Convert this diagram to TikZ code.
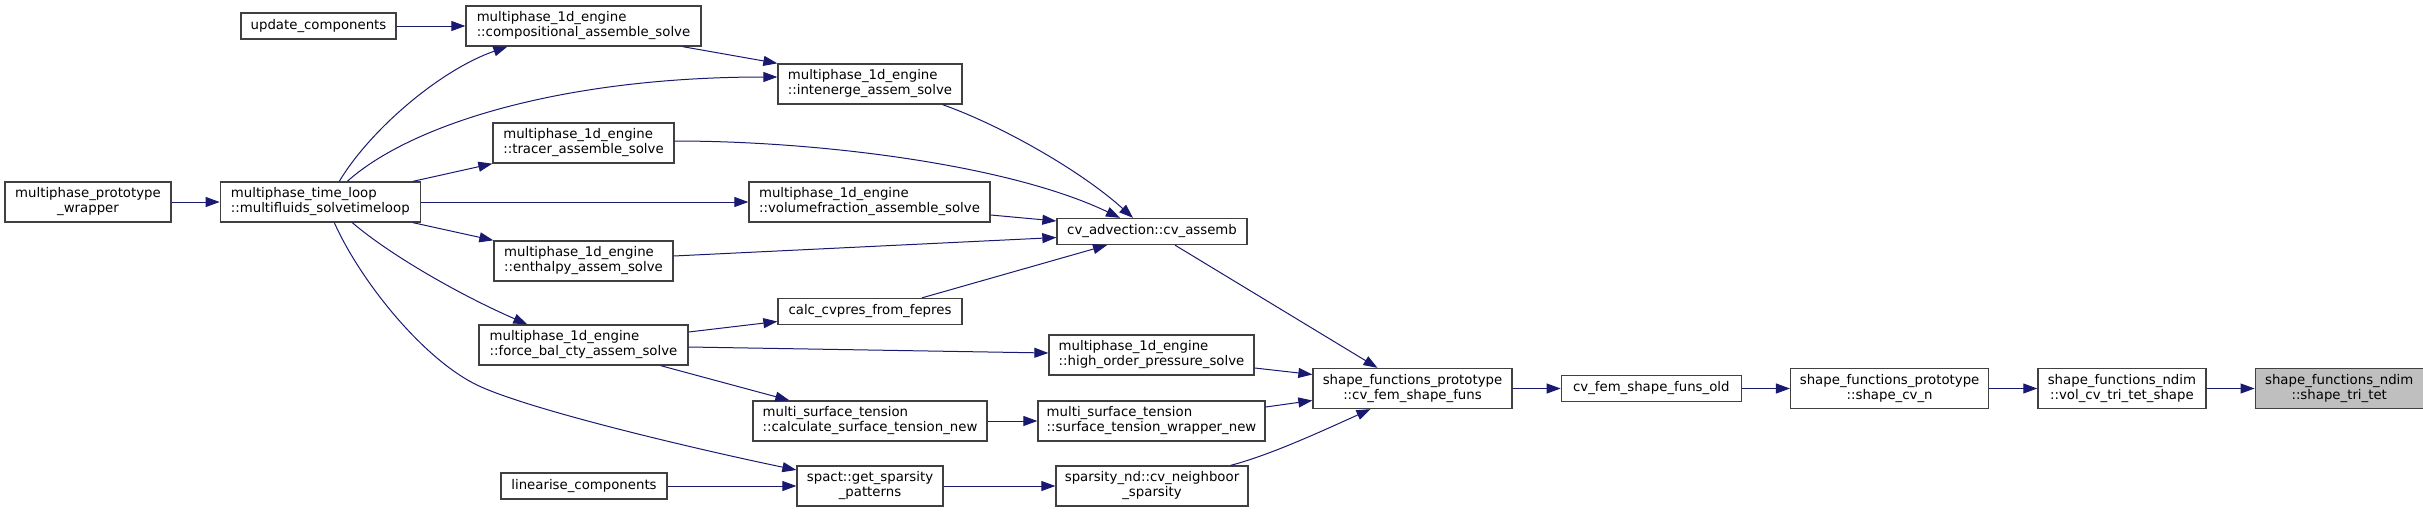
\documentclass[tikz,border=0pt]{standalone}
\usepackage{fontspec}
\setmainfont{DejaVu Sans}
\usetikzlibrary{positioning,arrows.meta}
\definecolor{edgeblue}{HTML}{191970}
\definecolor{boxgray}{HTML}{404040}
\definecolor{hilite}{HTML}{BFBFBF}

\begin{document}
\begin{tikzpicture}[
	x=1pt, y=-1pt,
	node distance=48pt,
	every node/.style={font=\fontsize{13.3}{15}\selectfont},
	block/.style={rectangle, draw=boxgray, line width=1.3pt, fill=white, inner sep=0pt, align=center, minimum height=40pt},
	lblock/.style={block, align=left},
	sblock/.style={block, minimum height=26pt},
	arrow/.style={-{Triangle[length=14pt,width=10pt]}, color=edgeblue, line width=1pt}
	]
	\useasboundingbox (0,0) rectangle (2423,512);
	
	% Time loop and its caller
	\node[block, minimum width=166pt] (wrapper) at (88,202) {multiphase\_prototype\\\_wrapper};
	\node[lblock, minimum width=200pt, right=of wrapper] (timeloop) {multiphase\_time\_loop\\::multifluids\_solvetimeloop};
	
	% Engine solvers
	\node[sblock, minimum width=155pt] (update) at (318.5,26) {update\_components};
	\node[lblock, minimum width=235pt] (compos) at (583.5,26) {multiphase\_1d\_engine\\::compositional\_assemble\_solve};
	\node[lblock, minimum width=181pt] (tracer) at (583.5,143) {multiphase\_1d\_engine\\::tracer\_assemble\_solve};
	\node[lblock, minimum width=179pt] (enthalpy) at (583.5,261) {multiphase\_1d\_engine\\::enthalpy\_assem\_solve};
	\node[lblock, minimum width=209pt] (forcebal) at (583.5,345) {multiphase\_1d\_engine\\::force\_bal\_cty\_assem\_solve};
	\node[sblock, minimum width=166pt] (linearise) at (584,486) {linearise\_components};
	
	% Middle column
	\node[lblock, minimum width=184pt] (intenerge) at (870,84) {multiphase\_1d\_engine\\::intenerge\_assem\_solve};
	\node[lblock, minimum width=241pt] (volfrac) at (869.5,202) {multiphase\_1d\_engine\\::volumefraction\_assemble\_solve};
	\node[sblock, minimum width=184pt] (cvpres) at (870,311.5) {calc\_cvpres\_from\_fepres};
	\node[lblock, minimum width=234pt] (calcst) at (870,421) {multi\_surface\_tension\\::calculate\_surface\_tension\_new};
	\node[block, minimum width=146pt] (sparsity) at (870,486) {spact::get\_sparsity\\\_patterns};
	
	% Next column
	\node[sblock, minimum width=190pt] (cvassemb) at (1152,231.5) {cv\_advection::cv\_assemb};
	\node[lblock, minimum width=205pt] (highorder) at (1151.5,355) {multiphase\_1d\_engine\\::high\_order\_pressure\_solve};
	\node[lblock, minimum width=227pt] (stwrapper) at (1151.5,421) {multi\_surface\_tension\\::surface\_tension\_wrapper\_new};
	\node[block, minimum width=192pt] (neighbour) at (1152,486) {sparsity\_nd::cv\_neighboor\\\_sparsity};
	
	% Shape functions chain
	\node[block, minimum width=199pt] (cvfem) at (1412.5,388.5) {shape\_functions\_prototype\\::cv\_fem\_shape\_funs};
	\node[sblock, minimum width=180pt, right=of cvfem] (cvfemold) {cv\_fem\_shape\_funs\_old};
	\node[block, minimum width=198pt, right=of cvfemold] (shapecvn) {shape\_functions\_prototype\\::shape\_cv\_n};
	\node[block, minimum width=168pt, right=of shapecvn] (volcv) {shape\_functions\_ndim\\::vol\_cv\_tri\_tet\_shape};
	\node[block, minimum width=168pt, fill=hilite, right=of volcv] (tritet) {shape\_functions\_ndim\\::shape\_tri\_tet};
	
	% Arrows
	\draw[arrow] (wrapper) -- (timeloop);
	\draw[arrow] (update) -- (compos);
	\draw[arrow] (timeloop) -- (volfrac);
	\draw[arrow] ([xshift=-19pt]compos.south east) -- (intenerge.north west);
	\draw[arrow] ([xshift=19pt]timeloop.north) .. controls (370,130) and (440,70) .. ([xshift=42pt]compos.south west);
	\draw[arrow] ([xshift=27pt]timeloop.north) .. controls (410,125) and (560,77) .. ([yshift=7pt]intenerge.west);
	\draw[arrow] ([xshift=-8pt]timeloop.north east) -- (tracer.south west);
	\draw[arrow] ([xshift=-8pt]timeloop.south east) -- (enthalpy.north west);
	\draw[arrow] ([xshift=32pt]timeloop.south) .. controls (390,255) and (460,295) .. ([xshift=49pt]forcebal.north west);
	\draw[arrow] ([xshift=14pt]timeloop.south) .. controls (360,280) and (420,355) .. (473,383)
		.. controls (520,408) and (700,450) .. ([yshift=16pt]sparsity.west);
	\draw[arrow] ([yshift=2pt]tracer.east) .. controls (820,141) and (1010,165) .. ([xshift=-32pt]cvassemb.north);
	\draw[arrow] ([xshift=-20pt]intenerge.south east) .. controls (1000,125) and (1080,170) .. ([xshift=-19pt]cvassemb.north);
	\draw[arrow] ([yshift=-13pt]volfrac.east) -- ([yshift=10.5pt]cvassemb.west);
	\draw[arrow] ([yshift=5pt]enthalpy.east) -- ([yshift=-6pt]cvassemb.west);
	\draw[arrow] ([xshift=52pt]cvpres.north) -- ([xshift=-45pt]cvassemb.south);
	\draw[arrow] ([yshift=13pt]forcebal.east) -- ([yshift=-10pt]cvpres.west);
	\draw[arrow] ([yshift=-2pt]forcebal.east) -- ([yshift=2pt]highorder.west);
	\draw[arrow] ([xshift=-28pt]forcebal.south east) -- ([xshift=37pt]calcst.north west);
	\draw[arrow] (calcst) -- (stwrapper);
	\draw[arrow] (linearise) -- (sparsity);
	\draw[arrow] (sparsity) -- (neighbour);
	\draw[arrow] ([xshift=23pt]cvassemb.south) -- ([xshift=-35pt]cvfem.north);
	\draw[arrow] ([yshift=-13pt]highorder.east) -- ([yshift=14pt]cvfem.west);
	\draw[arrow] ([yshift=14pt]stwrapper.east) -- ([yshift=-12pt]cvfem.west);
	\draw[arrow] ([xshift=-18pt]neighbour.north east) .. controls (1270,455) and (1320,432) .. ([xshift=-42pt]cvfem.south);
	\draw[arrow] (cvfem) -- (cvfemold);
	\draw[arrow] (cvfemold) -- (shapecvn);
	\draw[arrow] (shapecvn) -- (volcv);
	\draw[arrow] (volcv) -- (tritet);
	
\end{tikzpicture}
\end{document}
